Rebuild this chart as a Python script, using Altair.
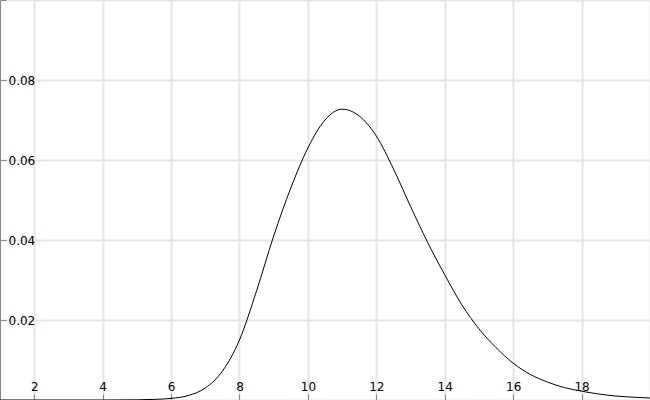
import altair as alt
import pandas as pd

xs = [1.0, 2.0, 3.0, 4.0, 4.5, 5.0, 5.5, 6.0, 6.5, 7.0, 7.5, 8.0, 8.5, 9.0, 9.5,
      10.0, 10.5, 11.0, 11.5, 12.0, 12.5, 13.0, 13.5, 14.0, 14.5, 15.0, 15.5,
      16.0, 16.5, 17.0, 17.5, 18.0, 18.5, 19.0, 19.5, 20.0]
ys = [0.0, 0.0, 0.0, 0.0, 0.00002, 0.00005, 0.00015, 0.0004, 0.0011, 0.0030, 0.0072,
      0.0150, 0.0273, 0.0410, 0.0530, 0.0630, 0.0700, 0.0727, 0.0710, 0.0660,
      0.0578, 0.0484, 0.0394, 0.0313, 0.0238, 0.0178, 0.0131, 0.0092, 0.0064,
      0.0045, 0.0031, 0.0022, 0.0015, 0.0010, 0.0007, 0.0005]

x_ticks = [2, 4, 6, 8, 10, 12, 14, 16, 18, 20]
y_ticks = [0.0, 0.02, 0.04, 0.06, 0.08, 0.1]

df = pd.DataFrame({"x": xs, "y": ys})

W, H = 650, 400

chart = alt.Chart(df).mark_line(color="black", strokeWidth=1, interpolate="monotone").encode(
    x=alt.X("x:Q",
            scale=alt.Scale(domain=[1, 20], nice=False, zero=False),
            axis=alt.Axis(orient="top", offset=-H, values=x_ticks, title=None,
                          labelExpr="datum.value >= 20 ? '' : datum.label",
                          tickSize=6, labelPadding=1, labelFontSize=12,
                          labelFont="DejaVu Sans", labelColor="black",
                          domainColor="#888", tickColor="#888",
                          gridColor="#e5e5e5", gridWidth=2,
                          labelFlush=False, labelOverlap=False)),
    y=alt.Y("y:Q",
            scale=alt.Scale(domain=[0, 0.1], nice=False),
            axis=alt.Axis(orient="right", offset=-W, values=y_ticks, title=None,
                          format=".2f",
                          labelExpr="(datum.value < 0.001 || datum.value > 0.099) ? '' : datum.label",
                          tickSize=6, labelPadding=2, labelFontSize=12,
                          labelFont="DejaVu Sans", labelColor="black",
                          domainColor="#888", tickColor="#888",
                          gridColor="#e5e5e5", gridWidth=2,
                          labelFlush=False, labelOverlap=False)),
).properties(
    width=W, height=H, autosize=alt.AutoSizeParams(type="none"), padding=0
).configure_view(stroke=None)

chart.save("out.html", embed_options={"renderer": "svg", "actions": False,
                                      "defaultStyle": "body{margin:0;overflow:hidden}"})
